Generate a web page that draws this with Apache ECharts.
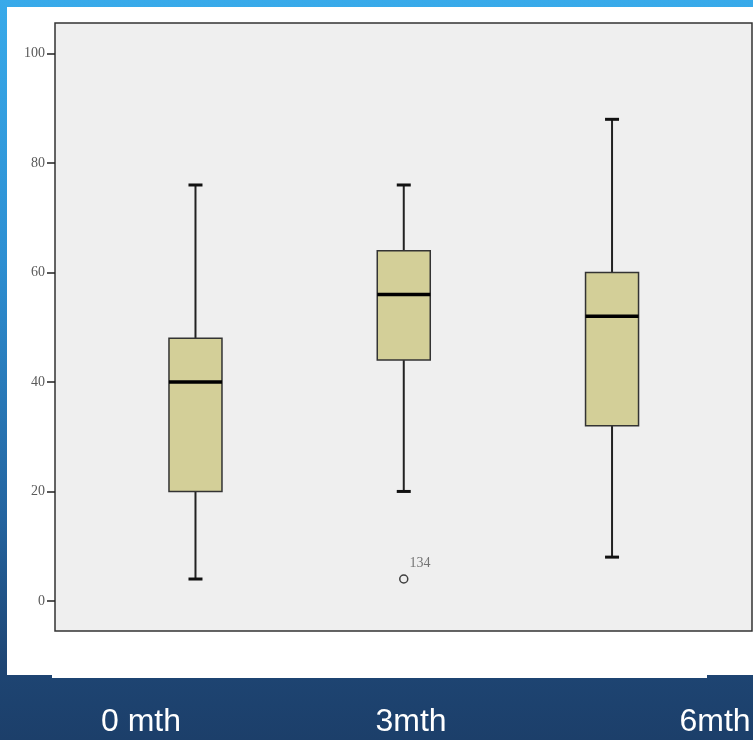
<!DOCTYPE html>
<html>
<head>
<meta charset="utf-8">
<script src="https://cdn.jsdelivr.net/npm/echarts@6/dist/echarts.min.js"></script>
<style>
  html, body { margin: 0; padding: 0; }
  body {
    width: 753px; height: 740px; position: relative; overflow: hidden;
    background: linear-gradient(to bottom, #38aaea 0%, #2d8fd2 35%, #24649f 70%, #1e4573 90%, #1c3f6a 100%);
  }
  #panel { position: absolute; left: 7px; top: 7px; width: 746px; height: 668px; background: #ffffff; }
  #panel2 { position: absolute; left: 52px; top: 675px; width: 655px; height: 3px; background: #ffffff; }
  #chart { position: absolute; left: 0; top: 0; width: 753px; height: 740px; }
</style>
</head>
<body>
<div id="panel"></div>
<div id="panel2"></div>
<div id="chart"></div>
<script>
// ---- data ----
const categories = ['0 mth', '3mth', '6mth'];
const whiskerLow  = [4, 20, 8];
const quartile1   = [20, 44, 32];
const medians     = [40, 56, 52];
const quartile3   = [48, 64, 60];
const whiskerHigh = [76, 76, 88];
const outlierCategory = [1];
const outlierValue    = [4];
const outlierLabel    = ['134'];
const yTickValues = [0, 20, 40, 60, 80, 100];

// ---- layout ----
const labelX = [141, 411, 715];

const boxData = categories.map((c, i) => [i, whiskerLow[i], quartile1[i], medians[i], quartile3[i], whiskerHigh[i]]);
const outlierData = outlierCategory.map((c, i) => ({ value: [c, outlierValue[i]], name: outlierLabel[i] }));

const chart = echarts.init(document.getElementById('chart'), null, { renderer: 'canvas' });

const option = {
  backgroundColor: 'transparent',
  animation: false,
  grid: {
    left: 55, top: 23, width: 697, height: 608,
    show: true, backgroundColor: '#efefef', borderColor: '#333', borderWidth: 1.5
  },
  xAxis: { type: 'value', min: -0.6745, max: 2.672, show: false },
  yAxis: {
    type: 'value', min: -5.5, max: 105.6,
    axisLine: { show: false, onZero: false },
    splitLine: { show: false },
    axisTick: { show: true, customValues: yTickValues, length: 8, lineStyle: { color: '#222', width: 1.5 } },
    axisLabel: {
      customValues: yTickValues, margin: 10,
      fontFamily: 'Liberation Serif', fontSize: 14, color: '#5a5a5a'
    }
  },
  series: [
    {
      type: 'custom',
      data: boxData,
      renderItem: function (params, api) {
        const x = api.value(0);
        const pLow = api.coord([x, api.value(1)]);
        const pQ1 = api.coord([x, api.value(2)]);
        const pMed = api.coord([x, api.value(3)]);
        const pQ3 = api.coord([x, api.value(4)]);
        const pHigh = api.coord([x, api.value(5)]);
        const cx = pMed[0];
        const hw = 26.5, cap = 7;
        return {
          type: 'group',
          children: [
            { type: 'line', shape: { x1: cx, y1: pHigh[1], x2: cx, y2: pQ3[1] }, style: { stroke: '#222', lineWidth: 2 } },
            { type: 'line', shape: { x1: cx, y1: pQ1[1], x2: cx, y2: pLow[1] }, style: { stroke: '#222', lineWidth: 2 } },
            { type: 'line', shape: { x1: cx - cap, y1: pHigh[1], x2: cx + cap, y2: pHigh[1] }, style: { stroke: '#111', lineWidth: 3 } },
            { type: 'line', shape: { x1: cx - cap, y1: pLow[1], x2: cx + cap, y2: pLow[1] }, style: { stroke: '#111', lineWidth: 3 } },
            { type: 'rect', shape: { x: cx - hw, y: pQ3[1], width: hw * 2, height: pQ1[1] - pQ3[1] },
              style: { fill: '#d3cf98', stroke: '#333', lineWidth: 1.5 } },
            { type: 'line', shape: { x1: cx - hw, y1: pMed[1], x2: cx + hw, y2: pMed[1] }, style: { stroke: '#000', lineWidth: 3.5 } }
          ]
        };
      },
      z: 5
    },
    {
      type: 'scatter',
      data: outlierData,
      symbol: 'circle',
      symbolSize: 8,
      itemStyle: { color: '#efefef', borderColor: '#111', borderWidth: 1.5 },
      label: {
        show: true, position: 'right', distance: 1, offset: [0, -16],
        formatter: p => p.name,
        fontFamily: 'Liberation Serif', fontSize: 14, color: '#555'
      },
      z: 6
    }
  ],
  graphic: categories.map((c, i) => ({
    type: 'text',
    x: labelX[i], y: 722,
    style: {
      text: c, fill: '#ffffff', font: '32px "Liberation Sans", Arial, sans-serif',
      textAlign: 'center', textVerticalAlign: 'middle'
    }
  }))
};

chart.setOption(option);
</script>
</body>
</html>
